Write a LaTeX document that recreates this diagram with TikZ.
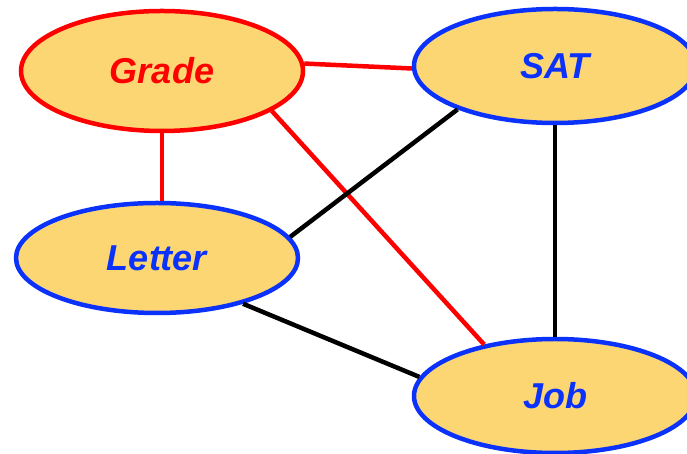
\documentclass[tikz,border=0pt]{standalone}
\usepackage{fontspec}
\setmainfont{Liberation Sans}
\usetikzlibrary{shapes.geometric}
\definecolor{nodefill}{RGB}{253,214,116}
\definecolor{nodeblue}{RGB}{10,50,250}
\definecolor{nodered}{RGB}{255,0,0}

\begin{document}
\begin{tikzpicture}[x=1pt, y=1pt,
    var/.style={ellipse, fill=nodefill, line width=4.5pt, inner sep=0pt,
      minimum width=282pt, minimum height=114pt,
      font=\bfseries\itshape\fontsize{36}{40}\selectfont},
    redvar/.style={var, draw=nodered, text=nodered, minimum height=120pt},
    bluevar/.style={var, draw=nodeblue, text=nodeblue},
    redlink/.style={draw=nodered, line width=4.5pt},
    blacklink/.style={draw=black, line width=4.5pt}
  ]
    \useasboundingbox (0,0) rectangle (687,454);

    \node[redvar]  (grade)  at (162,383) {Grade};
    \node[bluevar] (sat)    at (555,388) {SAT};
    \node[bluevar, minimum height=110pt] (letter) at (157,196) {Letter};
    \node[bluevar] (job)    at (555,58)  {Job};

    \draw[redlink] (grade.3) -- (sat.181);
    \draw[redlink] (grade.south) -- (grade.south |- letter.north);
    \draw[redlink] (grade.-20) -- (job.144);
    \draw[blacklink] (sat.204) -- (letter.9);
    \draw[blacklink] (sat.south) -- (job.north);
    \draw[blacklink] (letter.-28) -- (job.172);
\end{tikzpicture}
\end{document}
